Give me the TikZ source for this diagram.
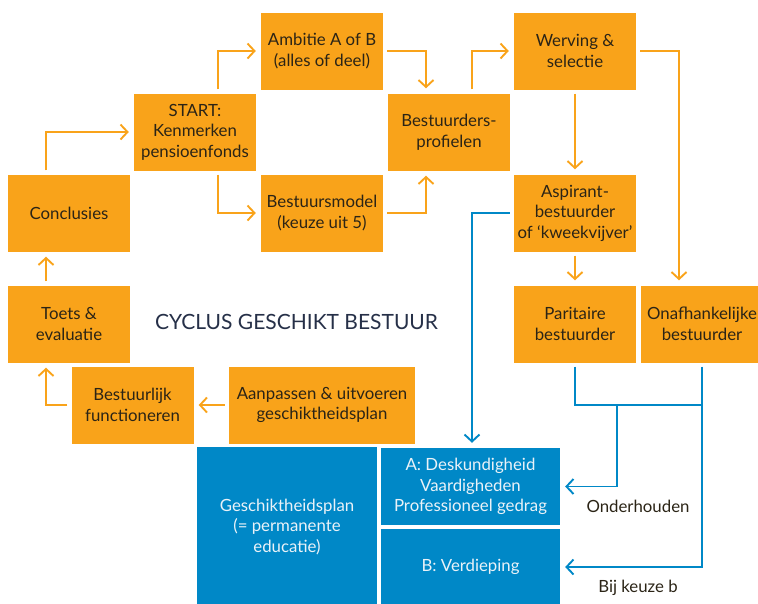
\documentclass[tikz,border=0pt]{standalone}
\usepackage{fontspec}
\setmainfont{Lato}
\usetikzlibrary{arrows.meta}
\definecolor{oranje}{HTML}{F9A31A}
\definecolor{blauw}{HTML}{0088C7}
\definecolor{donker}{HTML}{2B2416}
\definecolor{navy}{HTML}{263048}
\definecolor{licht}{HTML}{EAF2F8}
\begin{document}
\begin{tikzpicture}[x=1pt,y=-1pt,
  box/.style={fill=oranje, text=donker, align=center, inner sep=0pt,
    minimum width=122pt, minimum height=77pt,
    font=\fontsize{16.8}{20.5}\selectfont},
  bbox/.style={fill=blauw, text=licht, align=center, inner sep=0pt,
    font=\fontsize{16.8}{20.5}\selectfont},
  oline/.style={draw=oranje, line width=1.9pt,
    -{Straight Barb[length=7pt,width=15pt]}, shorten >=5pt, shorten <=4pt},
  bline/.style={draw=blauw, line width=1.9pt,
    -{Straight Barb[length=7pt,width=15pt]}, shorten >=5pt, shorten <=4pt},
  bplain/.style={draw=blauw, line width=1.9pt, shorten <=4pt},
  lbl/.style={text=donker, font=\fontsize{16.8}{20}\selectfont, inner sep=0pt},
  titel/.style={text=navy, font=\fontsize{21}{24}\selectfont, inner sep=0pt}]
\useasboundingbox (0,0) rectangle (758,603);

% orange process boxes
\node[box] (start) at (195,132) {START:\\Kenmerken\\pensioenfonds};
\node[box] (ambitie) at (322,51) {Ambitie A of B\\(alles of deel)};
\node[box] (model) at (322,213) {Bestuursmodel\\(keuze uit 5)};
\node[box] (profielen) at (449,132) {Bestuurders-\\profielen};
\node[box] (werving) at (575,51) {Werving \&\\selectie};
\node[box] (aspirant) at (575,213) {Aspirant-\\bestuurder\\of ‘kweekvijver’};
\node[box] (paritair) at (575,324) {Paritaire\\bestuurder};
\node[box] (onafh) at (702,324) {Onafhankelijke\\bestuurder};
\node[box] (conclusies) at (69,213) {Conclusies};
\node[box] (toets) at (69,324) {Toets \&\\evaluatie};
\node[box] (bestuurlijk) at (132.5,405) {Bestuurlijk\\functioneren};
\node[box, minimum width=186pt] (aanpassen) at (322,405) {Aanpassen \& uitvoeren\\geschiktheidsplan};

% blue plan boxes
\node[bbox, minimum width=180pt, minimum height=160pt] (plan) at (287,527)
  {Geschiktheidsplan\\(= permanente\\educatie)};
\node[bbox, minimum width=179pt, minimum height=77pt] (dA) at (470.5,486.5)
  {A: Deskundigheid\\Vaardigheden\\Professioneel gedrag};
\node[bbox, minimum width=179pt, minimum height=76pt] (dB) at (470.5,567)
  {B: Verdieping};

% title and labels
\node[titel] (cyclus) at (296.5,321.5) {CYCLUS GESCHIKT BESTUUR};
\node[lbl] (onderhouden) at (638,506) {Onderhouden};
\node[lbl] (keuze) at (638,588) {Bij keuze b};

% routing columns
\coordinate (xa) at (46,0);
\coordinate (xb) at (218,0);
\coordinate (xc) at (426,0);
\coordinate (xd) at (472,0);
\coordinate (xe) at (679,0);
\coordinate (xf) at (617,0);
\coordinate (yj) at (0,405);

% orange cycle
\draw[oline] (conclusies.north -| xa) |- (start.west);
\draw[oline] (start.north -| xb) |- (ambitie.west);
\draw[oline] (start.south -| xb) |- (model.west);
\draw[oline] (ambitie.east) -| (profielen.north -| xc);
\draw[oline] (model.east) -| (profielen.south -| xc);
\draw[oline] (profielen.north -| xd) |- (werving.west);
\draw[oline] (werving.south) -- (aspirant.north);
\draw[oline] (werving.east) -| (onafh.north -| xe);
\draw[oline] (aspirant.south) -- (paritair.north);
\draw[oline] (aanpassen.west) -- (bestuurlijk.east);
\draw[oline] (bestuurlijk.west) -| (toets.south -| xa);
\draw[oline] (toets.north -| xa) -- (conclusies.south -| xa);

% blue links to the plan
\draw[bline] (aspirant.west) -| (dA.north -| xd);
\draw[bplain] (paritair.south) |- (yj -| onafh.south);
\draw[bline] (onafh.south) |- (dB.east);
\draw[bline, shorten <=0pt] (yj -| xf) |- (dA.east);
\end{tikzpicture}
\end{document}
